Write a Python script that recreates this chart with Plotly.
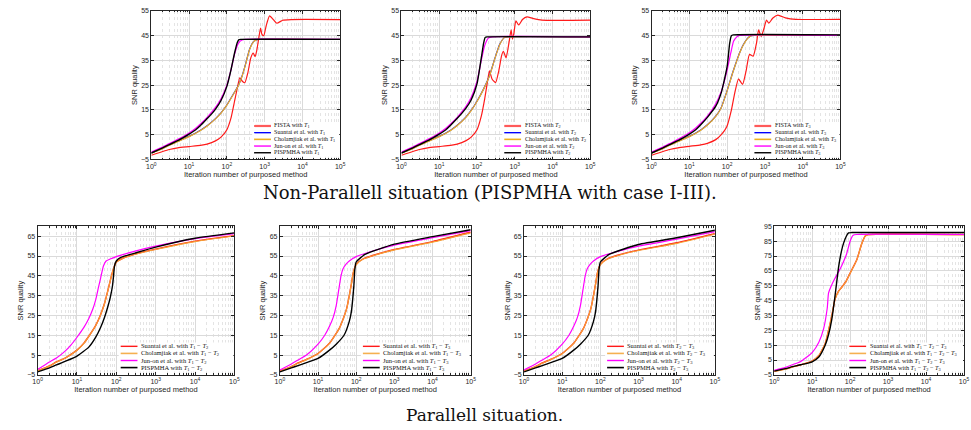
import plotly.graph_objects as go

# ---------------- data (iterations, SNR quality) ----------------
# Non-parallel, case T1
np1_it_fista = [1, 2, 3, 5, 10, 20, 30, 50, 70, 100, 130, 160, 190, 220, 260, 300, 360, 430, 500, 560, 620, 700, 780, 850, 950, 1100, 1350, 1700, 2100, 3000, 5000, 100000]
np1_fista = [-3.3, -1.8, -1.0, -0.3, 0.2, 0.7, 1.2, 2.5, 4.0, 7.0, 12.0, 18.5, 24.0, 28.0, 26.5, 26.0, 30.0, 36.0, 38.0, 36.5, 39.0, 44.0, 48.0, 45.5, 45.0, 49.0, 53.0, 51.5, 50.0, 51.2, 51.5, 51.5]
np1_it_sc = [1, 2, 3, 5, 7, 10, 20, 30, 50, 70, 100, 150, 200, 250, 300, 400, 500, 600, 700, 100000]
np1_suantai = [-2.4, -0.6, 0.8, 2.3, 3.3, 4.3, 6.8, 8.6, 11.5, 13.8, 17.0, 21.5, 24.8, 28.5, 32.5, 39.5, 42.5, 43.3, 43.5, 43.5]
np1_cholamjiak = [-2.5, -0.7, 0.7, 2.2, 3.2, 4.2, 6.7, 8.5, 11.4, 13.7, 16.9, 21.4, 24.7, 28.4, 32.4, 39.4, 42.4, 43.3, 43.5, 43.5]
np1_it_junon = [1, 2, 3, 5, 7, 10, 15, 20, 30, 40, 50, 70, 100, 130, 160, 200, 250, 300, 100000]
np1_junon = [-2.0, 0.0, 1.4, 3.1, 4.3, 5.7, 7.6, 9.3, 12.0, 14.2, 16.0, 19.5, 25.0, 31.5, 37.5, 41.8, 43.2, 43.5, 43.5]
np1_it_pis = [1, 2, 3, 5, 7, 10, 15, 20, 30, 40, 50, 70, 100, 130, 160, 190, 210, 230, 100000]
np1_pis = [-2.4, -0.3, 1.0, 2.6, 3.8, 5.2, 7.0, 8.7, 11.5, 13.5, 15.3, 18.8, 24.5, 31.5, 38.0, 42.3, 43.4, 43.5, 43.5]

# Non-parallel, case T2
np2_it_fista = [1, 2, 3, 5, 10, 20, 30, 50, 70, 100, 130, 160, 190, 214, 250, 310, 380, 450, 500, 590, 700, 800, 870, 950, 1070, 1270, 1600, 2100, 3000, 5200, 100000]
np2_fista = [-3.3, -1.8, -1.0, -0.3, 0.2, 0.7, 1.2, 2.5, 4.0, 7.0, 12.5, 19.5, 26.5, 30.8, 27.5, 26.0, 31.0, 37.0, 38.7, 36.0, 42.0, 47.3, 43.6, 46.0, 51.0, 49.3, 51.5, 52.6, 52.0, 51.3, 51.3]
np2_it_sc = [1, 2, 3, 5, 7, 10, 20, 30, 50, 70, 100, 150, 214, 300, 400, 530, 650, 100000]
np2_suantai = [-2.4, -0.6, 0.8, 2.3, 3.3, 4.3, 6.8, 8.8, 12.0, 14.8, 18.5, 23.5, 28.8, 36.0, 41.5, 44.2, 44.5, 44.5]
np2_cholamjiak = [-2.5, -0.7, 0.7, 2.2, 3.2, 4.2, 6.7, 8.7, 11.9, 14.7, 18.4, 23.4, 28.7, 35.9, 41.4, 44.2, 44.5, 44.5]
np2_it_junon = [1, 2, 3, 5, 7, 10, 15, 20, 30, 40, 50, 70, 100, 130, 160, 200, 250, 100000]
np2_junon = [-2.0, 0.0, 1.4, 3.1, 4.3, 5.7, 7.6, 9.3, 12.0, 14.3, 16.2, 20.0, 26.5, 35.0, 41.0, 44.0, 44.5, 44.5]
np2_it_pis = [1, 2, 3, 5, 7, 10, 15, 20, 30, 40, 50, 70, 100, 130, 150, 165, 185, 100000]
np2_pis = [-2.4, -0.3, 1.0, 2.6, 3.8, 5.2, 7.0, 8.8, 11.6, 13.7, 15.5, 19.0, 25.5, 36.0, 42.0, 44.3, 44.5, 44.5]

# Non-parallel, case T3
np3_it_fista = [1, 2, 3, 5, 10, 20, 30, 50, 70, 98, 130, 160, 200, 256, 320, 390, 490, 600, 680, 800, 950, 1100, 1270, 1600, 2200, 3500, 6600, 100000]
np3_fista = [-3.3, -1.8, -1.0, -0.3, 0.3, 0.9, 1.5, 3.0, 5.0, 8.2, 15.0, 22.0, 27.5, 25.3, 31.0, 37.4, 36.7, 42.0, 47.3, 44.7, 48.0, 51.3, 50.0, 52.0, 53.3, 52.2, 51.6, 51.6]
np3_it_sc = [1, 2, 3, 5, 7, 10, 20, 30, 50, 70, 100, 140, 178, 220, 270, 350, 440, 520, 100000]
np3_suantai = [-2.4, -0.6, 0.8, 2.3, 3.3, 4.3, 6.9, 9.0, 12.5, 16.0, 22.8, 30.0, 34.7, 38.5, 41.4, 44.0, 45.0, 45.1, 45.1]
np3_cholamjiak = [-2.5, -0.7, 0.7, 2.2, 3.2, 4.2, 6.8, 8.9, 12.4, 15.9, 22.7, 29.9, 34.6, 38.4, 41.3, 43.9, 45.0, 45.1, 45.1]
np3_it_junon = [1, 2, 3, 5, 7, 10, 15, 20, 30, 50, 70, 100, 125, 148, 180, 214, 100000]
np3_junon = [-2.0, 0.0, 1.4, 3.1, 4.4, 5.8, 7.8, 9.6, 12.5, 17.5, 22.5, 31.0, 38.0, 42.7, 44.5, 45.1, 45.1]
np3_it_pis = [1, 2, 3, 5, 7, 10, 15, 20, 30, 50, 70, 100, 117, 130, 145, 100000]
np3_pis = [-2.4, -0.3, 1.0, 2.6, 3.8, 5.2, 7.1, 9.0, 12.0, 16.5, 22.0, 32.5, 42.0, 45.0, 45.3, 45.3]

# Parallel, T1 - T2
p1_it_sc = [1, 2, 3, 5, 10, 15, 20, 30, 40, 50, 60, 70, 80, 90, 100, 150, 300, 1000, 10000, 100000]
p1_suantai = [-3.0, -0.5, 1.5, 3.5, 7.5, 11.0, 14.5, 20.0, 25.5, 31.0, 37.0, 42.5, 47.0, 50.0, 52.0, 54.0, 56.0, 58.5, 62.5, 65.3]
p1_cholamjiak = [-3.1, -0.6, 1.4, 3.4, 7.4, 10.9, 14.4, 19.9, 25.4, 30.9, 36.9, 42.4, 46.9, 49.9, 51.9, 53.9, 55.9, 58.3, 62.3, 65.1]
p1_it_junon = [1, 2, 3, 5, 7, 10, 15, 20, 25, 30, 35, 40, 47, 55, 70, 100, 300, 1000, 10000, 100000]
p1_junon = [-2.3, 1.5, 3.5, 7.0, 10.0, 14.0, 19.0, 23.5, 28.0, 33.0, 39.0, 44.0, 50.0, 52.5, 53.5, 54.7, 57.5, 60.0, 63.8, 66.3]
p1_it_pis = [1, 2, 3, 5, 10, 20, 30, 40, 50, 60, 70, 80, 85, 90, 100, 130, 300, 1000, 10000, 100000]
p1_pis = [-3.5, -1.5, 0.0, 1.8, 4.5, 9.0, 14.0, 19.0, 24.0, 29.0, 34.0, 40.0, 45.0, 50.0, 52.5, 54.3, 56.5, 59.5, 64.0, 66.7]

# Parallel, T1 - T3
p2_it_sc = [1, 2, 3, 5, 10, 20, 30, 36, 45, 56, 66, 75, 84, 100, 150, 300, 1000, 10000, 100000]
p2_suantai = [-3.0, -0.8, 1.0, 2.8, 5.8, 11.0, 16.0, 18.5, 23.0, 28.3, 35.0, 41.0, 46.7, 50.8, 53.5, 55.5, 58.3, 62.3, 67.0]
p2_cholamjiak = [-3.1, -0.9, 0.9, 2.7, 5.7, 10.9, 15.9, 18.4, 22.9, 28.2, 34.9, 40.9, 46.6, 50.7, 53.4, 55.4, 58.1, 62.0, 66.7]
p2_it_junon = [1, 2, 3, 5, 10, 15, 20, 25, 30, 35, 40, 45, 55, 66, 100, 300, 1000, 10000, 100000]
p2_junon = [-2.5, 0.5, 2.5, 5.0, 10.5, 15.0, 19.5, 24.0, 30.0, 38.0, 45.0, 48.5, 51.0, 52.5, 54.7, 57.8, 60.5, 64.3, 67.8]
p2_it_pis = [1, 2, 3, 5, 10, 20, 30, 48, 66, 75, 80, 87, 92, 100, 170, 1000, 10000, 100000]
p2_pis = [-3.5, -1.5, -0.3, 1.2, 3.3, 7.5, 10.5, 15.0, 22.0, 27.0, 32.0, 40.0, 48.0, 52.0, 55.8, 61.0, 64.8, 68.3]

# Parallel, T2 - T3
p3_it_sc = [1, 2, 3, 5, 10, 20, 30, 36, 45, 56, 66, 75, 84, 100, 150, 300, 1000, 10000, 100000]
p3_suantai = [-3.0, -0.8, 1.0, 2.8, 5.8, 11.0, 16.0, 18.5, 23.0, 28.3, 35.0, 41.0, 46.7, 50.8, 53.5, 55.5, 58.0, 61.7, 66.3]
p3_cholamjiak = [-3.1, -0.9, 0.9, 2.7, 5.7, 10.9, 15.9, 18.4, 22.9, 28.2, 34.9, 40.9, 46.6, 50.7, 53.4, 55.4, 57.8, 61.4, 66.0]
p3_it_junon = [1, 2, 3, 5, 10, 15, 20, 25, 30, 35, 40, 45, 55, 66, 100, 300, 1000, 10000, 100000]
p3_junon = [-2.5, 0.5, 2.5, 5.0, 10.5, 15.0, 19.5, 24.0, 30.0, 38.0, 45.0, 48.5, 51.0, 52.5, 54.7, 57.5, 60.0, 63.5, 67.3]
p3_it_pis = [1, 2, 3, 5, 10, 20, 30, 48, 66, 75, 80, 87, 92, 100, 170, 1000, 10000, 100000]
p3_pis = [-3.5, -1.5, -0.3, 1.2, 3.3, 7.5, 10.5, 15.0, 22.0, 27.0, 32.0, 40.0, 48.0, 52.0, 55.8, 60.8, 64.2, 68.0]

# Parallel, T1 - T2 - T3
p4_it_sc = [1, 2, 3, 5, 10, 15, 22, 27, 33, 40, 50, 60, 80, 100, 150, 200, 250, 300, 100000]
p4_suantai = [-2.5, -1.0, 0.3, 1.8, 4.3, 8.0, 16.0, 25.0, 34.8, 46.0, 51.5, 54.0, 58.5, 63.5, 72.5, 83.0, 88.5, 89.5, 89.5]
p4_cholamjiak = [-2.6, -1.1, 0.2, 1.7, 4.2, 7.9, 15.9, 24.9, 34.7, 45.9, 51.4, 53.9, 58.4, 63.4, 72.4, 82.9, 88.4, 89.4, 89.4]
p4_it_junon = [1, 2, 3, 5, 10, 15, 20, 25, 27, 32, 40, 50, 60, 80, 100, 120, 150, 100000]
p4_junon = [-2.0, 0.0, 1.8, 4.0, 10.0, 17.0, 26.0, 40.0, 50.0, 55.0, 60.0, 64.5, 68.5, 76.0, 85.0, 89.0, 89.5, 89.5]
p4_it_pis = [1, 2, 3, 5, 10, 15, 22, 27, 33, 40, 50, 60, 67, 80, 91, 110, 100000]
p4_pis = [-2.5, -0.8, 0.5, 1.8, 3.8, 7.0, 14.9, 22.0, 32.6, 48.0, 68.0, 79.0, 83.5, 88.5, 90.6, 90.8, 90.8]

# ticks / labels
x_tick_exp = [0, 1, 2, 3, 4, 5]
y_ticks_top = [-5, 5, 15, 25, 35, 45, 55]
y_ticks_bot = [-5, 5, 15, 25, 35, 45, 55, 65]
y_ticks_bot4 = [-5, 5, 15, 25, 35, 45, 55, 65, 75, 85, 95]
top_cases = ["1", "2", "3"]
bot_cases = [["1", "2"], ["1", "3"], ["2", "3"], ["1", "2", "3"]]
x_title = "Iteration number of purposed method"
y_title = "SNR quality"
caption_top = "Non-Parallell situation (PISPMHA with case I-III)."
caption_bot = "Parallell situation."

# ---------------- layout / style ----------------
W, H = 971, 430
SANS = "Liberation Sans"
SERIF = "Liberation Serif"
CAPF = "DejaVu Serif"
AXC = "#262626"
C_RED, C_BLUE, C_ORANGE, C_MAG, C_BLACK = "#ff1a1a", "#0000ff", "#EDB120", "#ff00ff", "#000000"

top_boxes = [(148, 339), (401, 592), (654, 845)]
top_yb = (7, 158)
bot_boxes = [(33, 232), (278, 471), (525, 718), (778, 970)]
bot_yb = (226, 377)

fig = go.Figure()
shapes, annots = [], []


def T(k):
    return "<i>T</i><sub>%s</sub>" % k


def add_axes(n, box, yb, yr, yticks):
    x0, x1 = box
    y0, y1 = yb
    sfx = "" if n == 1 else str(n)
    minor_vals = [m * 10 ** k for k in range(5) for m in range(2, 10)]
    fig.layout["xaxis" + sfx] = dict(
        type="log", range=[0, 5], domain=[x0 / W, x1 / W], anchor="y" + sfx,
        tickmode="array", tickvals=[10 ** k for k in x_tick_exp],
        ticktext=["10<sup>%d</sup>" % k for k in x_tick_exp],
        ticks="inside", ticklen=3, tickcolor=AXC, tickwidth=0.8,
        showline=True, linecolor=AXC, linewidth=1, mirror="ticks",
        showgrid=True, gridcolor="#dadada", gridwidth=1,
        minor=dict(tickmode="array", tickvals=minor_vals, ticks="inside", ticklen=1.5,
                   tickcolor=AXC, showgrid=True, gridcolor="#e4e4e4", griddash="dot", gridwidth=0.8),
        tickfont=dict(family=SANS, size=7, color=AXC),
        title=dict(text=x_title, font=dict(family=SANS, size=7.5, color=AXC), standoff=1),
        zeroline=False, fixedrange=True,
    )
    fig.layout["yaxis" + sfx] = dict(
        range=yr, domain=[1 - y1 / H, 1 - y0 / H], anchor="x" + sfx,
        tickmode="array", tickvals=yticks,
        ticks="inside", ticklen=3, tickcolor=AXC, tickwidth=0.8,
        showline=True, linecolor=AXC, linewidth=1, mirror="ticks",
        showgrid=True, gridcolor="#dadada", gridwidth=1,
        tickfont=dict(family=SANS, size=7, color=AXC),
        title=dict(text=y_title, font=dict(family=SANS, size=7.5, color=AXC), standoff=2),
        zeroline=False, fixedrange=True,
    )
    return "x" + sfx, "y" + sfx


def add_line(xa, ya, it, v, color, width=1.2):
    fig.add_trace(go.Scatter(x=it, y=v, mode="lines", xaxis=xa, yaxis=ya, showlegend=False,
                             line=dict(color=color, width=width, shape="spline", smoothing=0.5),
                             hoverinfo="skip"))


def add_legend(xa, ya, box, yb, entries, line_x0, row0, step, fsize):
    x0, x1 = box
    y0, y1 = yb
    w, h = x1 - x0, y1 - y0
    xr = xa + " domain"
    yr = ya + " domain"
    lx0 = line_x0
    lx1 = line_x0 + 17
    top = row0 - 4
    bot = row0 + step * (len(entries) - 1) + 4
    shapes.append(dict(type="rect", xref=xr, yref=yr, x0=(lx0 - 2 - x0) / w, x1=(x1 - 1 - x0) / w,
                       y0=(y1 - bot) / h, y1=(y1 - top) / h, fillcolor="white", line=dict(width=0), layer="above"))
    for i, (lab, col, lw) in enumerate(entries):
        yy = row0 + step * i
        yd = (y1 - yy) / h
        shapes.append(dict(type="line", xref=xr, yref=yr, x0=(lx0 - x0) / w, x1=(lx1 - x0) / w,
                           y0=yd, y1=yd, line=dict(color=col, width=lw), layer="above"))
        annots.append(dict(xref=xr, yref=yr, x=(lx1 + 1.5 - x0) / w, y=yd, text=lab, showarrow=False,
                           xanchor="left", yanchor="middle", font=dict(family=SERIF, size=fsize, color="#111")))


top_data = [
    (np1_it_fista, np1_fista, np1_it_sc, np1_suantai, np1_cholamjiak, np1_it_junon, np1_junon, np1_it_pis, np1_pis),
    (np2_it_fista, np2_fista, np2_it_sc, np2_suantai, np2_cholamjiak, np2_it_junon, np2_junon, np2_it_pis, np2_pis),
    (np3_it_fista, np3_fista, np3_it_sc, np3_suantai, np3_cholamjiak, np3_it_junon, np3_junon, np3_it_pis, np3_pis),
]
for i, d in enumerate(top_data):
    xa, ya = add_axes(i + 1, top_boxes[i], top_yb, [-5, 55], y_ticks_top)
    itf, vf, its, vs, vc, itj, vj, itp, vp = d
    add_line(xa, ya, itf, vf, C_RED)
    add_line(xa, ya, its, vs, C_BLUE)
    add_line(xa, ya, its, vc, C_ORANGE)
    add_line(xa, ya, itj, vj, C_MAG)
    add_line(xa, ya, itp, vp, C_BLACK, 1.4)
    k = top_cases[i]
    entries = [("FISTA with " + T(k), "#ff5a5a", 2.2),
               ("Suantai et al. with " + T(k), C_BLUE, 1.4),
               ("Cholamjiak et al. with " + T(k), C_ORANGE, 1.6),
               ("Jun-on et al. with " + T(k), C_MAG, 1.4),
               ("PISPMHA with " + T(k), C_BLACK, 1.4)]
    bx = top_boxes[i]
    add_legend(xa, ya, bx, top_yb, entries, bx[0] + 104, 124, 6.8, 6.1)

bot_data = [
    (p1_it_sc, p1_suantai, p1_cholamjiak, p1_it_junon, p1_junon, p1_it_pis, p1_pis, [-5, 70], y_ticks_bot),
    (p2_it_sc, p2_suantai, p2_cholamjiak, p2_it_junon, p2_junon, p2_it_pis, p2_pis, [-5, 70], y_ticks_bot),
    (p3_it_sc, p3_suantai, p3_cholamjiak, p3_it_junon, p3_junon, p3_it_pis, p3_pis, [-5, 70], y_ticks_bot),
    (p4_it_sc, p4_suantai, p4_cholamjiak, p4_it_junon, p4_junon, p4_it_pis, p4_pis, [-5, 95], y_ticks_bot4),
]
for i, d in enumerate(bot_data):
    its, vs, vc, itj, vj, itp, vp, yr, yt = d
    xa, ya = add_axes(4 + i, bot_boxes[i], bot_yb, yr, yt)
    add_line(xa, ya, its, vs, C_RED, 1.4)
    add_line(xa, ya, its, vc, "#F5A030", 1.2)
    add_line(xa, ya, itj, vj, C_MAG)
    add_line(xa, ya, itp, vp, C_BLACK, 1.4)
    cs = " − ".join(T(c) for c in bot_cases[i])
    entries = [("Suantai et al. with " + cs, C_RED, 1.4),
               ("Cholamjiak et al. with " + cs, "#F5B050", 1.6),
               ("Jun-on et al. with " + cs, C_MAG, 1.4),
               ("PISPMHA with " + cs, C_BLACK, 1.6)]
    bx = bot_boxes[i]
    off = 76 if i == 3 else 84
    fs = 6.2 if i == 3 else 6.5
    add_legend(xa, ya, bx, bot_yb, entries, bx[0] + off, 348, 7.2, fs)

annots.append(dict(xref="paper", yref="paper", x=491 / W, y=1 - 192 / H, text=caption_top, showarrow=False,
                   xanchor="center", yanchor="middle", font=dict(family=CAPF, size=18, color="#111")))
annots.append(dict(xref="paper", yref="paper", x=485 / W, y=1 - 418 / H, text=caption_bot, showarrow=False,
                   xanchor="center", yanchor="middle", font=dict(family=CAPF, size=17, color="#111")))

fig.update_layout(width=W, height=H, margin=dict(l=0, r=0, t=0, b=0),
                  paper_bgcolor="white", plot_bgcolor="white",
                  shapes=shapes, annotations=annots, showlegend=False)
fig.write_html("out.html", config={"displayModeBar": False})
